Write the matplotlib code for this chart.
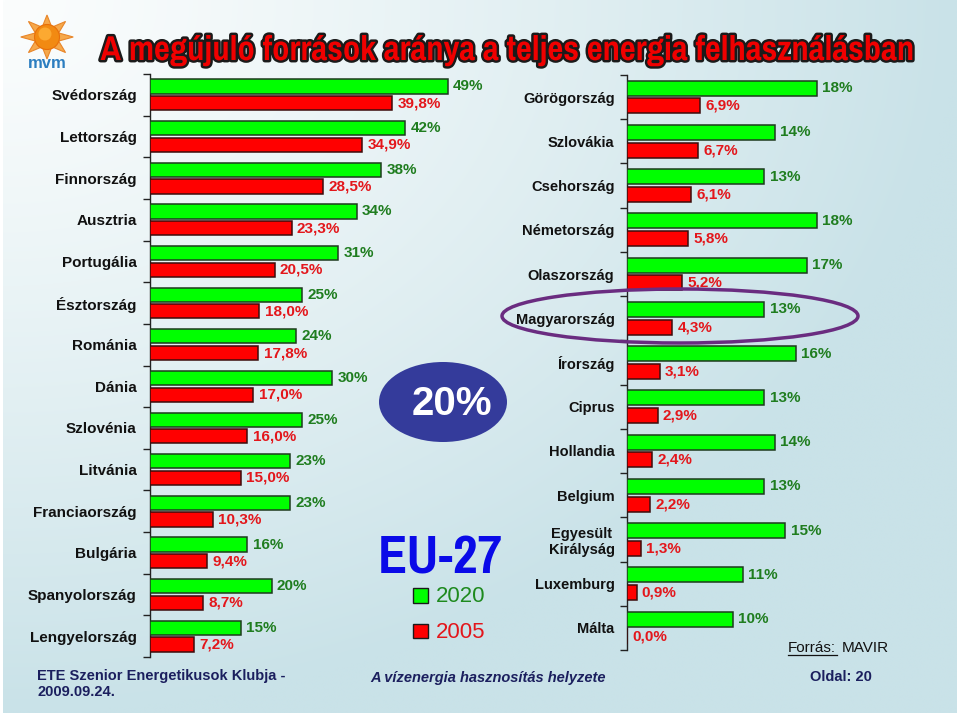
import os
import numpy as np
import matplotlib
matplotlib.use('Agg')
import matplotlib.pyplot as plt
from matplotlib.patches import Ellipse, Rectangle, Polygon, Circle
from matplotlib import patheffects as pe
from matplotlib import font_manager as fm

plt.rcParams['font.family'] = ['Liberation Sans', 'DejaVu Sans']

# ---------------- data ----------------
left_countries = ["Svédország", "Lettország", "Finnország", "Ausztria", "Portugália",
                  "Észtország", "Románia", "Dánia", "Szlovénia", "Litvánia",
                  "Franciaország", "Bulgária", "Spanyolország", "Lengyelország"]
left_2020 = [49, 42, 38, 34, 31, 25, 24, 30, 25, 23, 23, 16, 20, 15]
left_2005 = [39.8, 34.9, 28.5, 23.3, 20.5, 18.0, 17.8, 17.0, 16.0, 15.0, 10.3, 9.4, 8.7, 7.2]

right_countries = ["Görögország", "Szlovákia", "Csehország", "Németország", "Olaszország",
                   "Magyarország", "Írország", "Ciprus", "Hollandia", "Belgium",
                   "Egyesült\nKirályság", "Luxemburg", "Málta"]
right_2020 = [18, 14, 13, 18, 17, 13, 16, 13, 14, 13, 15, 11, 10]
right_2005 = [6.9, 6.7, 6.1, 5.8, 5.2, 4.3, 3.1, 2.9, 2.4, 2.2, 1.3, 0.9, 0.0]

eu_target = 20
legend_years = ["2020", "2005"]

title = "A megújuló források aránya a teljes energia felhasználásban"

# ---------------- styles ----------------
W, H = 960, 716
GREEN = '#00ff00'
RED = '#ff0000'
GREEN_TXT = '#1f7d1f'
RED_TXT = '#e3161b'
NAVY = '#1b1f5e'

fig = plt.figure(figsize=(9.6, 7.16), dpi=100)

def fr(x0, y0, x1, y1):
    """pixel box (top-left origin) -> figure fraction rect"""
    return [x0 / W, 1 - y1 / H, (x1 - x0) / W, (y1 - y0) / H]

# background gradient
bg = fig.add_axes([0, 0, 1, 1], zorder=0)
bg.set_xlim(0, W); bg.set_ylim(H, 0); bg.axis('off')
xx, yy = np.meshgrid(np.linspace(0, 1, 240), np.linspace(0, 1, 180))
t = np.clip(np.sqrt(xx ** 2 + yy ** 2), 0, 1) ** 1.2
c0 = np.array([0xfb, 0xfd, 0xfd]) / 255
c1 = np.array([0xc9, 0xe2, 0xe8]) / 255
img = c0 + (c1 - c0) * t[..., None]
bg.imshow(img, extent=(3, 957, 713, 0), aspect='auto', interpolation='bilinear')


def panel(rect, xmax, countries, g, r, fs, pad):
    ax = fig.add_axes(rect, zorder=2)
    ax.patch.set_alpha(0)
    n = len(countries)
    y = np.arange(n)
    ax.barh(y - 0.2, g, height=0.34, color=GREEN, edgecolor='#1d3a1d', linewidth=1.1, zorder=3)
    ax.barh(y + 0.2, r, height=0.34, color=RED, edgecolor='#3c0c0c', linewidth=1.1, zorder=3)
    for yi, v in zip(y, g):
        ax.annotate(f"{v:d}%", xy=(v, yi - 0.2), xytext=(3.8, 0), textcoords='offset points',
                    ha='left', va='center', fontsize=11, fontweight='bold', color=GREEN_TXT,
                    annotation_clip=False)
    for yi, v in zip(y, r):
        ax.annotate(f"{v:.1f}%".replace('.', ','), xy=(v, yi + 0.2), xytext=(3.8, 0),
                    textcoords='offset points', ha='left', va='center', fontsize=11,
                    fontweight='bold', color=RED_TXT, annotation_clip=False)
    ax.set_xlim(0, xmax)
    ax.set_ylim(n - 0.5, -0.5)
    ax.set_xticks([])
    ax.set_yticks(y)
    ax.set_yticklabels(countries, fontsize=fs, fontweight='bold', color='#111111')
    for lab in ax.get_yticklabels():
        lab.set_multialignment('center')
    ax.set_yticks(np.arange(n + 1) - 0.5, minor=True)
    ax.tick_params(axis='y', which='major', length=0, pad=pad)
    ax.tick_params(axis='y', which='minor', length=5, width=1, direction='out', color='#222222')
    for s in ['top', 'right', 'bottom']:
        ax.spines[s].set_visible(False)
    ax.spines['left'].set_color('#222222')
    ax.spines['left'].set_linewidth(1)
    return ax

axL = panel(fr(150, 74, 150 + 60 * 6.08, 657), 60, left_countries, left_2020, left_2005, 11, 9.5)
axR = panel(fr(627, 75, 627 + 30 * 10.56, 650), 30, right_countries, right_2020, right_2005, 10.5, 9)

# overlay for decorations
ov = fig.add_axes([0, 0, 1, 1], zorder=5)
ov.set_xlim(0, W); ov.set_ylim(H, 0); ov.axis('off'); ov.patch.set_alpha(0)

# condensed font for title / EU-27
def find_condensed():
    files = [f.fname for f in fm.fontManager.ttflist]
    for p in ['narrow-bold', 'narrowbold', 'condensed-black', 'condensed-extrabold',
              'condensed-bold', 'condensedbold']:
        for f in files:
            if p in os.path.basename(f).lower():
                return fm.FontProperties(fname=f)
    return fm.FontProperties(family='Liberation Sans', weight='bold')

cfont = find_condensed()

title_t = ov.text(507, 50, title, ha='center', va='center', color='#f00000',
                  fontproperties=cfont, fontsize=30,
                  path_effects=[pe.withStroke(linewidth=3.5, foreground='#1a1a1a')])
eu_t = ov.text(440, 559, "EU-27", ha='center', va='center', color='#0a0ae8',
               fontproperties=cfont, fontsize=30)

# logo
ang = np.linspace(0, 2 * np.pi, 17)[:-1] + np.pi / 2
rad = np.where(np.arange(16) % 2 == 0, 25, 12)
star = np.column_stack([47 + rad * np.cos(ang) * 1.05, 37 - rad * np.sin(ang) * 0.88])
ov.add_patch(Polygon(star, closed=True, fc='#f6a84a', ec='#e8862a', lw=0.8))
ov.add_patch(Circle((47, 37), 12.5, fc='#f28a12', ec='#e86f0a', lw=0.8))
ov.add_patch(Circle((45, 34), 6.5, fc='#ffb13a', ec='none', alpha=0.8))
ov.text(47, 63, "mvm", ha='center', va='center', fontsize=12, fontweight='bold', color='#2c7ec0')

# 20% ellipse
ov.add_patch(Ellipse((443, 402), 128, 80, fc='#343b9b', ec='none'))
ov.text(452, 404, f"{eu_target}%", ha='center', va='center', fontsize=29,
        fontweight='bold', color='white')

# legend
ov.add_patch(Rectangle((413, 588), 15, 15, fc=GREEN, ec='#1a1a1a', lw=1))
ov.text(436, 596, legend_years[0], ha='left', va='center', fontsize=16, color='#1e8a1e')
ov.add_patch(Rectangle((413, 624), 15, 14, fc=RED, ec='#1a1a1a', lw=1))
ov.text(436, 632, legend_years[1], ha='left', va='center', fontsize=16, color=RED_TXT)

# purple highlight
ov.add_patch(Ellipse((680, 316), 356, 54, fill=False, ec='#6a2c80', lw=2.5))

# source
ov.text(788, 648, "Forrás:", ha='left', va='center', fontsize=11, color='#111111')
ov.plot([788, 837], [655, 655], color='#111111', lw=0.9)
ov.text(842, 648, "MAVIR", ha='left', va='center', fontsize=11, color='#111111')

# footer
ov.text(37, 676, "ETE Szenior Energetikusok Klubja -", ha='left', va='center', fontsize=10.5,
        fontweight='bold', color=NAVY)
ov.text(37, 692, "2009.09.24.", ha='left', va='center', fontsize=10.5,
        fontweight='bold', color=NAVY)
ov.text(370, 678, "A vízenergia hasznosítás helyzete", ha='left', va='center', fontsize=10.5,
        fontweight='bold', style='italic', color=NAVY)
ov.text(810, 677, "Oldal: 20", ha='left', va='center', fontsize=10.5,
        fontweight='bold', color=NAVY)

# fit condensed texts to reference widths
fig.canvas.draw()
rend = fig.canvas.get_renderer()
for t_obj, target in [(title_t, 815), (eu_t, 125)]:
    w = t_obj.get_window_extent(rend).width
    t_obj.set_fontsize(t_obj.get_fontsize() * target / w)

fig.savefig('out.png', dpi=100)
